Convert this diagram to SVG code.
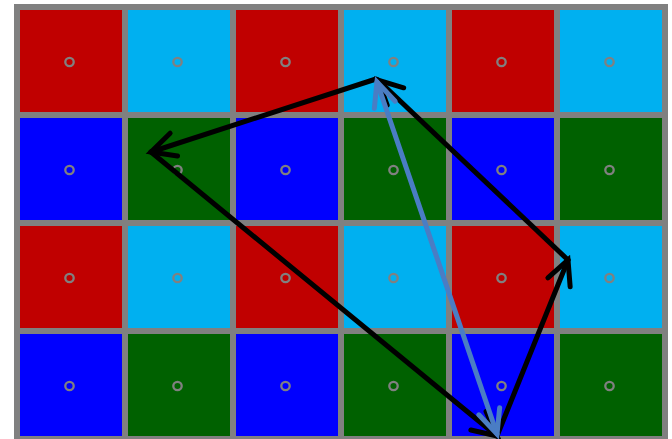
<svg xmlns="http://www.w3.org/2000/svg" width="672" height="439" viewBox="0 0 672 439">
<style>
.r{fill:#C00000}.c{fill:#00B0F0}.b{fill:#0000FF}.g{fill:#006100}
.dot{fill:none;stroke:#808080;stroke-width:2.3}
.blk{fill:none;stroke:#000;stroke-width:5;stroke-linecap:round}
.blu{fill:none;stroke:#4A7DC4;stroke-width:5;stroke-linecap:round}
</style>
<defs>
<marker id="ak" markerUnits="userSpaceOnUse" viewBox="-30 -15 34 30" refX="0" refY="0" markerWidth="34" markerHeight="30" orient="auto" overflow="visible">
<path d="M-24,-12 L0,0 L-24,12" fill="none" stroke="#000" stroke-width="5" stroke-linecap="round" stroke-linejoin="miter"/>
</marker>
<marker id="ab" markerUnits="userSpaceOnUse" viewBox="-30 -15 34 30" refX="0" refY="0" markerWidth="34" markerHeight="30" orient="auto-start-reverse" overflow="visible">
<path d="M-24,-11 L0,0 L-24,11" fill="none" stroke="#4A7DC4" stroke-width="5" stroke-linecap="round" stroke-linejoin="miter"/>
</marker>
</defs>
<rect x="14" y="4" width="654" height="440" fill="#808080"/>
<g id="row0">
<g id="cell-0-0"><rect class="r" x="20" y="10" width="102" height="102"/><circle class="dot" cx="69.5" cy="62" r="4.2"/></g>
<g id="cell-0-1"><rect class="c" x="128" y="10" width="102" height="102"/><circle class="dot" cx="177.5" cy="62" r="4.2"/></g>
<g id="cell-0-2"><rect class="r" x="236" y="10" width="102" height="102"/><circle class="dot" cx="285.5" cy="62" r="4.2"/></g>
<g id="cell-0-3"><rect class="c" x="344" y="10" width="102" height="102"/><circle class="dot" cx="393.5" cy="62" r="4.2"/></g>
<g id="cell-0-4"><rect class="r" x="452" y="10" width="102" height="102"/><circle class="dot" cx="501.5" cy="62" r="4.2"/></g>
<g id="cell-0-5"><rect class="c" x="560" y="10" width="102" height="102"/><circle class="dot" cx="609.5" cy="62" r="4.2"/></g>
</g>
<g id="row1">
<g id="cell-1-0"><rect class="b" x="20" y="118" width="102" height="102"/><circle class="dot" cx="69.5" cy="170" r="4.2"/></g>
<g id="cell-1-1"><rect class="g" x="128" y="118" width="102" height="102"/><circle class="dot" cx="177.5" cy="170" r="4.2"/></g>
<g id="cell-1-2"><rect class="b" x="236" y="118" width="102" height="102"/><circle class="dot" cx="285.5" cy="170" r="4.2"/></g>
<g id="cell-1-3"><rect class="g" x="344" y="118" width="102" height="102"/><circle class="dot" cx="393.5" cy="170" r="4.2"/></g>
<g id="cell-1-4"><rect class="b" x="452" y="118" width="102" height="102"/><circle class="dot" cx="501.5" cy="170" r="4.2"/></g>
<g id="cell-1-5"><rect class="g" x="560" y="118" width="102" height="102"/><circle class="dot" cx="609.5" cy="170" r="4.2"/></g>
</g>
<g id="row2">
<g id="cell-2-0"><rect class="r" x="20" y="226" width="102" height="102"/><circle class="dot" cx="69.5" cy="278" r="4.2"/></g>
<g id="cell-2-1"><rect class="c" x="128" y="226" width="102" height="102"/><circle class="dot" cx="177.5" cy="278" r="4.2"/></g>
<g id="cell-2-2"><rect class="r" x="236" y="226" width="102" height="102"/><circle class="dot" cx="285.5" cy="278" r="4.2"/></g>
<g id="cell-2-3"><rect class="c" x="344" y="226" width="102" height="102"/><circle class="dot" cx="393.5" cy="278" r="4.2"/></g>
<g id="cell-2-4"><rect class="r" x="452" y="226" width="102" height="102"/><circle class="dot" cx="501.5" cy="278" r="4.2"/></g>
<g id="cell-2-5"><rect class="c" x="560" y="226" width="102" height="102"/><circle class="dot" cx="609.5" cy="278" r="4.2"/></g>
</g>
<g id="row3">
<g id="cell-3-0"><rect class="b" x="20" y="334" width="102" height="102"/><circle class="dot" cx="69.5" cy="386" r="4.2"/></g>
<g id="cell-3-1"><rect class="g" x="128" y="334" width="102" height="102"/><circle class="dot" cx="177.5" cy="386" r="4.2"/></g>
<g id="cell-3-2"><rect class="b" x="236" y="334" width="102" height="102"/><circle class="dot" cx="285.5" cy="386" r="4.2"/></g>
<g id="cell-3-3"><rect class="g" x="344" y="334" width="102" height="102"/><circle class="dot" cx="393.5" cy="386" r="4.2"/></g>
<g id="cell-3-4"><rect class="b" x="452" y="334" width="102" height="102"/><circle class="dot" cx="501.5" cy="386" r="4.2"/></g>
<g id="cell-3-5"><rect class="g" x="560" y="334" width="102" height="102"/><circle class="dot" cx="609.5" cy="386" r="4.2"/></g>
</g>
<g id="connectors">
<line class="blk" x1="376" y1="79" x2="151" y2="152" marker-end="url(#ak)"/>
<line class="blk" x1="151" y1="152" x2="497" y2="436" marker-end="url(#ak)"/>
<line class="blk" x1="497" y1="436" x2="568" y2="260" marker-end="url(#ak)"/>
<line class="blk" x1="568" y1="260" x2="378" y2="80" marker-end="url(#ak)"/>
<line class="blu" x1="497" y1="434" x2="377" y2="82" marker-start="url(#ab)" marker-end="url(#ab)"/>
</g>
</svg>
